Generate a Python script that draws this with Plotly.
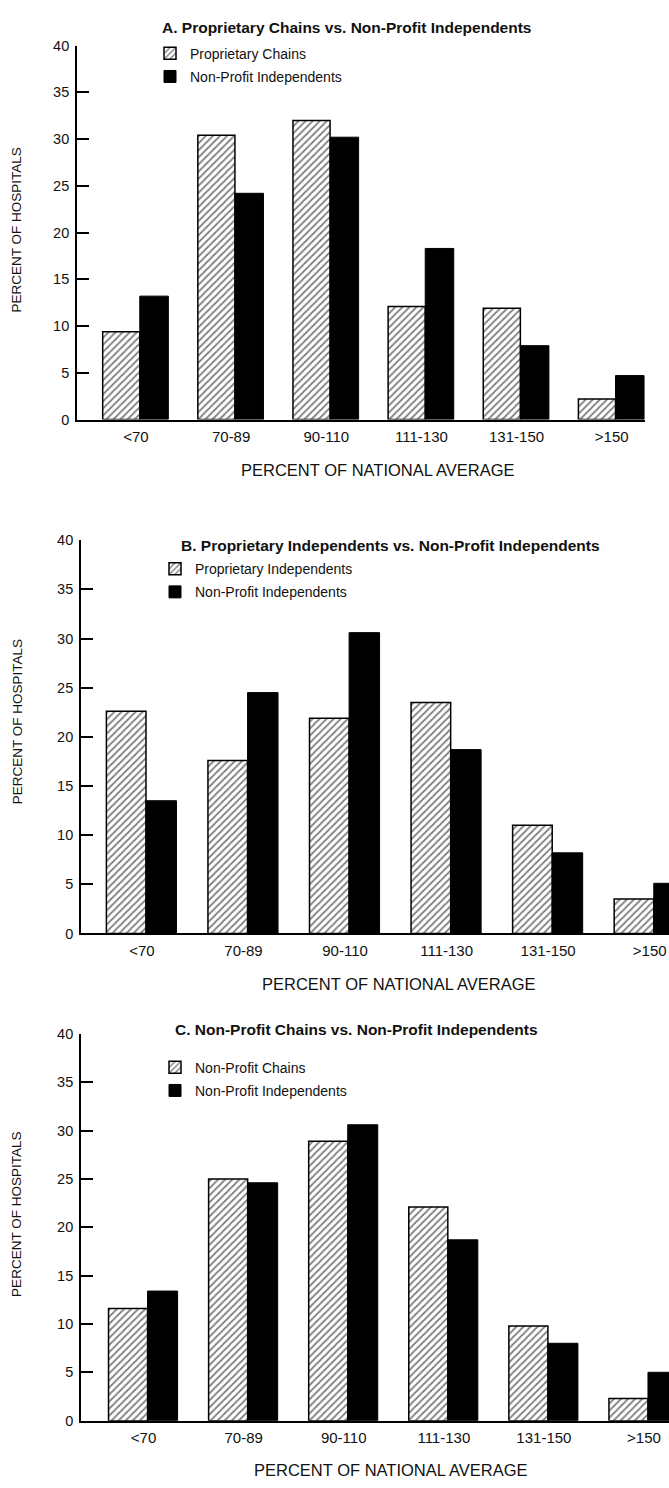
import plotly.graph_objects as go

# Hospital cost distribution, three comparisons against non-profit independents
categories = ["<70", "70-89", "90-110", "111-130", "131-150", ">150"]
y_ticks = [0, 5, 10, 15, 20, 25, 30, 35, 40]

proprietary_chains = [9.4, 30.4, 32.0, 12.1, 11.9, 2.2]
nonprofit_indep_a = [13.2, 24.2, 30.2, 18.3, 7.9, 4.7]

proprietary_indep = [22.6, 17.6, 21.9, 23.5, 11.0, 3.5]
nonprofit_indep_b = [13.5, 24.5, 30.6, 18.7, 8.2, 5.1]

nonprofit_chains = [11.6, 25.0, 28.9, 22.1, 9.8, 2.3]
nonprofit_indep_c = [13.4, 24.6, 30.6, 18.7, 8.0, 5.0]

titles = [
    "A. Proprietary Chains vs. Non-Profit Independents",
    "B. Proprietary Independents vs. Non-Profit Independents",
    "C. Non-Profit Chains vs. Non-Profit Independents",
]
hatched_names = ["Proprietary Chains", "Proprietary Independents", "Non-Profit Chains"]
solid_name = "Non-Profit Independents"
x_title = "PERCENT OF NATIONAL AVERAGE"
y_title = "PERCENT OF HOSPITALS"

W, H = 669, 1488
FONT = "Liberation Sans, Arial, sans-serif"
INK = "#111111"


def px_x(x):
    return x / W


def px_y(y):
    return 1 - y / H


# pixel geometry of each panel: left, right, top (y=40), bottom (y=0), x range
panels = [
    dict(x0=77, x1=645, top=38, bot=416, xr=[-0.62, 5.35],
         title_xy=(346, 20), leg_xy=(150, 30), xt_xy=(378, 467), yt_y=225,
         hatched=proprietary_chains, solid=nonprofit_indep_a),
    dict(x0=81, x1=669, top=538, bot=935.5, xr=[-0.60, 5.19],
         title_xy=(390, 543), leg_xy=(155, 551), xt_xy=(399, 987), yt_y=722,
         hatched=proprietary_indep, solid=nonprofit_indep_b),
    dict(x0=81, x1=669, top=1037, bot=1428, xr=[-0.625, 5.25],
         title_xy=(356, 1033), leg_xy=(155, 1055), xt_xy=(391, 1478), yt_y=1220,
         hatched=nonprofit_chains, solid=nonprofit_indep_c),
]

fig = go.Figure()
layout = dict(
    width=W, height=H,
    margin=dict(l=0, r=0, t=0, b=0),
    paper_bgcolor="white", plot_bgcolor="white",
    barmode="overlay",
    font=dict(family=FONT, color=INK),
    annotations=[],
)

for i, p in enumerate(panels):
    sfx = "" if i == 0 else str(i + 1)
    xa, ya = "x" + sfx, "y" + sfx
    leg = "legend" + sfx

    fig.add_trace(go.Bar(
        x=categories, y=p["hatched"], xaxis=xa, yaxis=ya,
        name=hatched_names[i], legend=leg, legendgroup=f"h{i}",
        width=0.39, offset=-0.35,
        marker=dict(color="white",
                    pattern=dict(shape="/", fgcolor="black", bgcolor="white",
                                 size=5, solidity=0.35),
                    line=dict(color="black", width=1.5)),
    ))
    fig.add_trace(go.Bar(
        x=categories, y=p["solid"], xaxis=xa, yaxis=ya,
        name=solid_name, legend=leg, legendgroup=f"s{i}",
        width=0.30, offset=0.04,
        marker=dict(color="black", line=dict(color="black", width=1)),
    ))

    layout["xaxis" + sfx] = dict(
        domain=[px_x(p["x0"]), px_x(p["x1"])], anchor=ya,
        range=p["xr"], showline=True, linecolor="black", linewidth=1.5,
        ticks="", showgrid=False, zeroline=False,
        tickfont=dict(size=15, family=FONT, color=INK),
        ticklabelstandoff=3, fixedrange=True,
    )
    layout["yaxis" + sfx] = dict(
        domain=[px_y(p["bot"]), px_y(p["top"])], anchor=xa,
        range=[0, 40], tickvals=y_ticks, showline=True, linecolor="black",
        linewidth=1.75, ticks="inside", ticklen=12, tickwidth=1.5,
        tickcolor="black", showgrid=False, zeroline=False,
        tickfont=dict(size=14.5, family=FONT, color=INK),
        ticklabelstandoff=3, fixedrange=True,
    )
    lx, ly = p["leg_xy"]
    layout[leg] = dict(
        x=px_x(lx), y=px_y(ly), xanchor="left", yanchor="top",
        bgcolor="rgba(0,0,0,0)", borderwidth=0,
        font=dict(size=14, family=FONT, color=INK),
        tracegroupgap=2, itemwidth=30,
    )

    tx, ty = p["title_xy"]
    layout["annotations"].append(dict(
        text=f"<b>{titles[i]}</b>", x=px_x(tx), y=px_y(ty),
        xref="paper", yref="paper", showarrow=False,
        xanchor="center", yanchor="middle",
        font=dict(size=15.5, family=FONT, color=INK),
    ))
    xx, xy = p["xt_xy"]
    layout["annotations"].append(dict(
        text=x_title, x=px_x(xx), y=px_y(xy),
        xref="paper", yref="paper", showarrow=False,
        xanchor="center", yanchor="middle",
        font=dict(size=16.5, family=FONT, color=INK),
    ))
    layout["annotations"].append(dict(
        text=y_title, x=px_x(17), y=px_y(p["yt_y"]),
        xref="paper", yref="paper", showarrow=False, textangle=-90,
        xanchor="center", yanchor="middle",
        font=dict(size=13.5, family=FONT, color=INK),
    ))

fig.update_layout(**layout)
fig.write_html("out.html")
